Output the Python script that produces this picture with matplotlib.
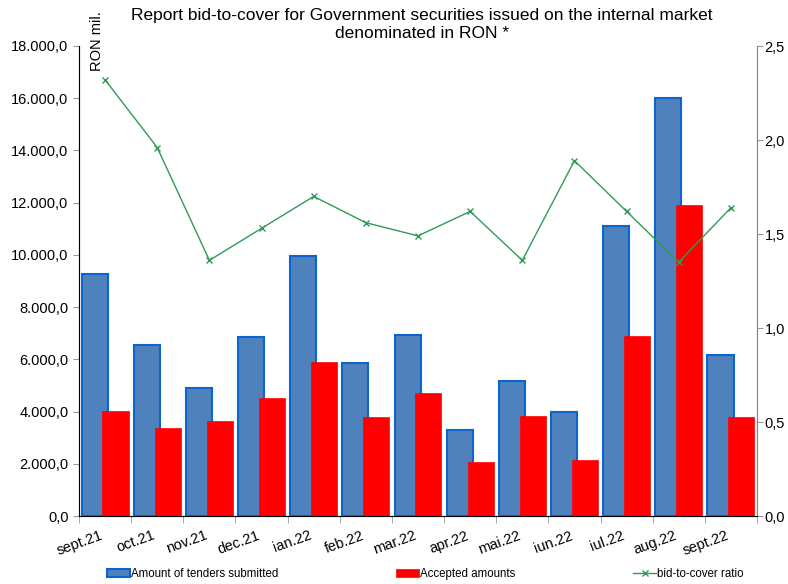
import matplotlib
matplotlib.use("Agg")
import matplotlib.pyplot as plt
import numpy as np
from matplotlib.ticker import FuncFormatter, FixedLocator

plt.rcParams['font.family'] = ['Liberation Sans', 'DejaVu Sans']

months = ["sept.21", "oct.21", "nov.21", "dec.21", "ian.22", "feb.22", "mar.22",
          "apr.22", "mai.22", "iun.22", "iul.22", "aug.22", "sept.22"]
submitted = [9270, 6560, 4900, 6860, 9960, 5860, 6930, 3290, 5170, 3980, 11110, 16010, 6170]
accepted = [4020, 3370, 3640, 4520, 5900, 3790, 4710, 2070, 3830, 2140, 6890, 11910, 3790]
ratio = [2.32, 1.96, 1.36, 1.53, 1.70, 1.56, 1.49, 1.62, 1.36, 1.89, 1.62, 1.35, 1.64]

fig = plt.figure(figsize=(7.88, 5.84), dpi=100)
ax = fig.add_axes([79/788, 1-516/584, (757-79)/788, (516-46)/584])
x = np.arange(len(months))

b1 = ax.bar(x - 0.2, submitted, width=0.5, color="#4F81BD", edgecolor="#0A66CC",
            linewidth=1.5, label="Amount of tenders submitted", zorder=2)
b2 = ax.bar(x + 0.2, accepted, width=0.5, color="#FF0000", edgecolor="#FF0000",
            linewidth=0.5, label="Accepted amounts", zorder=3)
ax.set_xlim(-0.5, len(months) - 0.5)
ax.set_ylim(0, 18000)
ax.set_yticks(np.arange(0, 18001, 2000))

def fmt_left(v, pos):
    s = f"{v:,.1f}"
    return s.replace(",", "X").replace(".", ",").replace("X", ".")
ax.yaxis.set_major_formatter(FuncFormatter(fmt_left))
ax.set_xticks(x)
ax.set_xticklabels(months, rotation=20, ha="right", va="top", fontsize=10.5)
ax.tick_params(axis="x", length=0, pad=9)
ax.xaxis.set_minor_locator(FixedLocator(np.arange(-0.5, len(months), 1)))
ax.tick_params(axis="x", which="minor", length=5, color="#999999")
ax.tick_params(axis="y", labelsize=10.5, length=4, color="#999999")
ax.spines["top"].set_visible(False)
for s in ["left", "bottom", "right"]:
    ax.spines[s].set_color("#888888")

ax2 = ax.twinx()
l1, = ax2.plot(x, ratio, color="#2E9B5A", marker="x", markersize=5, linewidth=1,
               label="bid-to-cover ratio", zorder=4)
ax2.set_ylim(0, 2.5)
ax2.set_yticks(np.arange(0, 2.51, 0.5))
ax2.yaxis.set_major_formatter(FuncFormatter(lambda v, p: f"{v:.1f}".replace(".", ",")))
ax2.tick_params(axis="y", labelsize=10.5, length=4, color="#999999", pad=1.5)
ax2.spines["top"].set_visible(False)
ax2.spines["right"].set_color("#888888")

fig.text(97/788, 1-41/584, "RON mil.", rotation=90, fontsize=10.5, ha="center", va="center")

fig.text(0.535, 1-8/584, "Report bid-to-cover for Government securities issued on the internal market\ndenominated in RON *",
         ha="center", va="top", fontsize=12.5, linespacing=1.25)

fig.legend([b1, b2, l1], ["Amount of tenders submitted", "Accepted amounts", "bid-to-cover ratio"],
           loc="center left", bbox_to_anchor=(107/788, 1-574/584), ncol=3, frameon=False,
           fontsize=8.3, handlelength=2.0, handletextpad=0.1, columnspacing=10.2,
           borderpad=0, borderaxespad=0)

fig.savefig("out.png", dpi=100)
